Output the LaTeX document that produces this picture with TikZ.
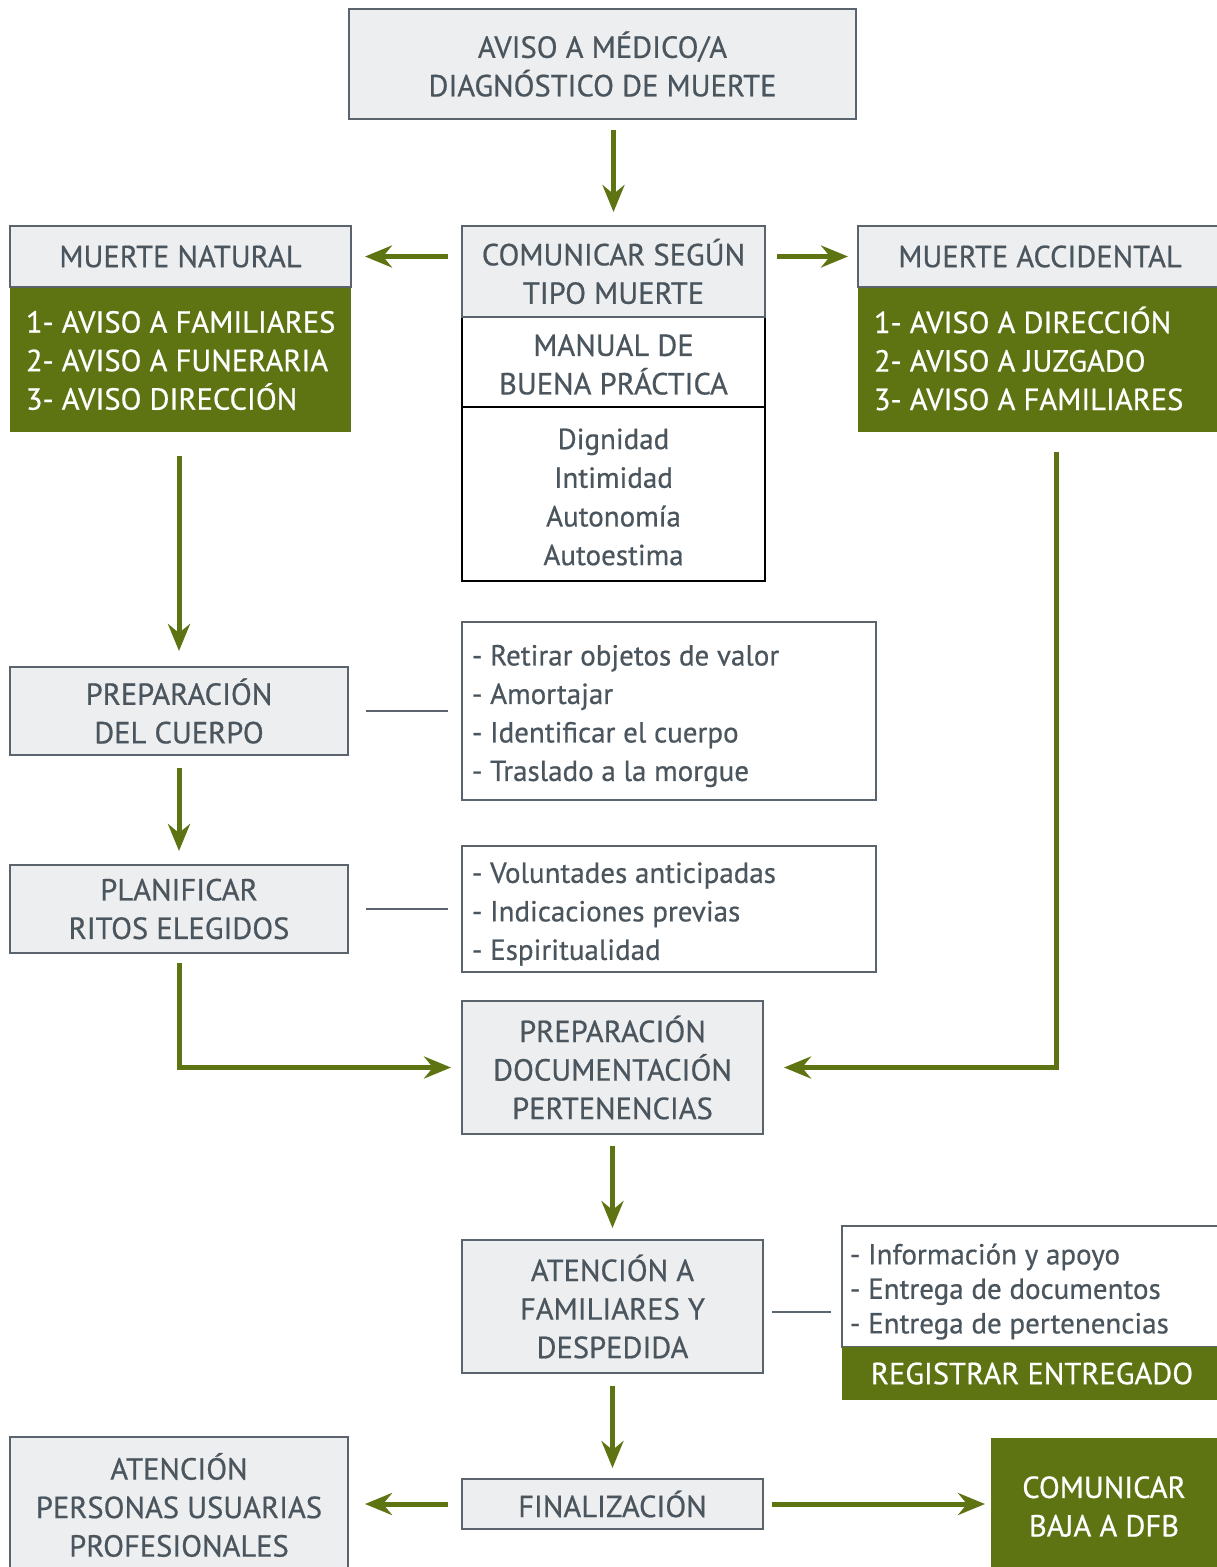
\documentclass[tikz,border=0pt]{standalone}
\usepackage{fontspec}
\setmainfont{PT Sans}[FakeBold=0.6]
\usetikzlibrary{arrows.meta}
\definecolor{boxgray}{HTML}{ECEEF0}
\definecolor{edgegray}{HTML}{5B646C}
\definecolor{txtgray}{HTML}{4B555D}
\definecolor{leaf}{HTML}{5E7413}
\tikzset{
  base/.style={rectangle, inner sep=0pt, outer sep=0pt, text=txtgray, align=center,
    font=\fontsize{30.5}{38.5}\selectfont},
  graybox/.style={base, fill=boxgray, draw=edgegray, line width=2.5pt},
  greenbox/.style={base, fill=leaf, text=white},
  blackbox/.style={base, fill=white, draw=black, line width=2pt},
  frame/.style={base, fill=white, draw=edgegray, line width=2.5pt},
  listtext/.style={base, align=left, font=\fontsize{29}{38.5}\selectfont},
  arr/.style={draw=leaf, line width=5pt,
    -{Stealth[length=27pt, width=22pt, inset=9pt]}},
  link/.style={draw=edgegray, line width=2.5pt},
}
\begin{document}
\begin{tikzpicture}[x=1pt, y=-1pt]
\useasboundingbox (0,0) rectangle (1217,1567);
\fill[white] (0,0) rectangle (1217,1567);

% top of the chart
\node[graybox, minimum width=507pt, minimum height=110pt] (top) at (602.5,64)
  {AVISO A MÉDICO/A\\DIAGNÓSTICO DE MUERTE};

% central column: communication and good practice
\node[blackbox, minimum width=303pt, minimum height=174pt] (valores) at (613.5,494) {};
\node[base, font=\fontsize{29}{38.7}\selectfont] (valt) at (613.5,497)
  {Dignidad\\Intimidad\\Autonomía\\Autoestima};
\node[blackbox, minimum width=303pt, minimum height=90pt] (manual) at (613.5,362) {};
\node[base] (mant) at (613.5,364.5) {MANUAL DE\\BUENA PRÁCTICA};
\node[graybox, minimum width=303pt, minimum height=91pt] (com) at (613.5,271.5)
  {COMUNICAR SEGÚN\\TIPO MUERTE};

% natural death
\node[greenbox, minimum width=341pt, minimum height=145pt] (natg) at (180.5,359.5) {};
\node[greenbox, anchor=west, align=left] (natl) at (26,360.5)
  {1- AVISO A FAMILIARES\\2- AVISO A FUNERARIA\\3- AVISO DIRECCIÓN};
\node[graybox, minimum width=341pt, minimum height=61pt] (nat) at (180.5,256.5)
  {MUERTE NATURAL};

% accidental death
\node[greenbox, minimum width=364pt, minimum height=145pt] (accg) at (1040,359.5) {};
\node[greenbox, anchor=west, align=left] (accl) at (874,358.5)
  {1- AVISO A DIRECCIÓN\\2- AVISO A JUZGADO\\3- AVISO A FAMILIARES};
\node[graybox, minimum width=364pt, minimum height=61pt] (acc) at (1040,256.5)
  {MUERTE ACCIDENTAL};

% body preparation and rites
\node[graybox, minimum width=338pt, minimum height=88pt] (prep) at (179,711)
  {PREPARACIÓN\\DEL CUERPO};
\node[frame, minimum width=414pt, minimum height=178pt] (list1) at (669,711) {};
\node[listtext, anchor=west] (list1t) at (472,716)
  {- Retirar objetos de valor\\- Amortajar\\- Identificar el cuerpo\\- Traslado a la morgue};
\node[graybox, minimum width=338pt, minimum height=88pt] (plan) at (179,909)
  {PLANIFICAR\\RITOS ELEGIDOS};
\node[frame, minimum width=414pt, minimum height=126pt] (list2) at (669,909) {};
\node[listtext, anchor=west] (list2t) at (472,914)
  {- Voluntades anticipadas\\- Indicaciones previas\\- Espiritualidad};

% documents and family care
\node[graybox, minimum width=301pt, minimum height=133pt] (doc) at (612.5,1067.5)
  {PREPARACIÓN\\DOCUMENTACIÓN\\PERTENENCIAS};
\node[graybox, minimum width=301pt, minimum height=133pt] (aten) at (612.5,1306.5)
  {ATENCIÓN A\\FAMILIARES Y\\DESPEDIDA};
\node[frame, minimum width=380pt, minimum height=121pt] (ent) at (1032,1286.5) {};
\node[listtext, anchor=west, font=\fontsize{29}{34.5}\selectfont] (entt) at (850,1291.5)
  {- Información y apoyo\\- Entrega de documentos\\- Entrega de pertenencias};
\node[greenbox, minimum width=380pt, minimum height=53pt] (reg) at (1032,1373.5)
  {REGISTRAR ENTREGADO};

% closing
\node[graybox, minimum width=301pt, minimum height=50pt] (fin) at (612.5,1504)
  {FINALIZACIÓN};
\node[graybox, minimum width=338pt, minimum height=136pt] (pers) at (179,1505)
  {ATENCIÓN\\PERSONAS USUARIAS\\PROFESIONALES};
\node[greenbox, minimum width=226pt, minimum height=138pt] (baja) at (1104,1506.5)
  {COMUNICAR\\BAJA A DFB};

% connectors
\draw[arr, shorten <=11pt, shorten >=14pt] (com.north |- top.south) -- (com.north);
\draw[arr, shorten <=14pt, shorten >=14pt] (nat.east -| com.west) -- (nat.east);
\draw[arr, shorten <=12pt, shorten >=10pt] (com.east |- acc.west) -- (acc.west);
\draw[arr, shorten <=24pt, shorten >=16pt] (prep.north |- natg.south) -- (prep.north);
\draw[link, shorten <=18pt, shorten >=14pt] (prep.east) -- (list1.west);
\draw[arr, shorten <=13pt, shorten >=14pt] (prep.south) -- (plan.north);
\draw[link, shorten <=18pt, shorten >=14pt] (plan.east) -- (list2.west);
\draw[arr, shorten <=10pt, shorten >=11pt] (plan.south) |- (doc.west);
\draw[arr, shorten <=20pt, shorten >=21pt] ([xshift=16pt]accg.south) |- (doc.east);
\draw[arr, shorten <=12pt, shorten >=12pt] (doc.south) -- (aten.north);
\coordinate (ae) at ([yshift=-5.5pt]aten.east);
\draw[link, shorten <=9pt, shorten >=11pt] (ae) -- (ae -| ent.west);
\draw[arr, shorten <=13pt, shorten >=11pt] (aten.south) -- (fin.north);
\draw[arr, shorten <=14pt, shorten >=17pt] (fin.west) -- (fin.west -| pers.east);
\draw[arr, shorten <=9pt, shorten >=6pt] (fin.east) -- (fin.east -| baja.west);
\end{tikzpicture}
\end{document}
